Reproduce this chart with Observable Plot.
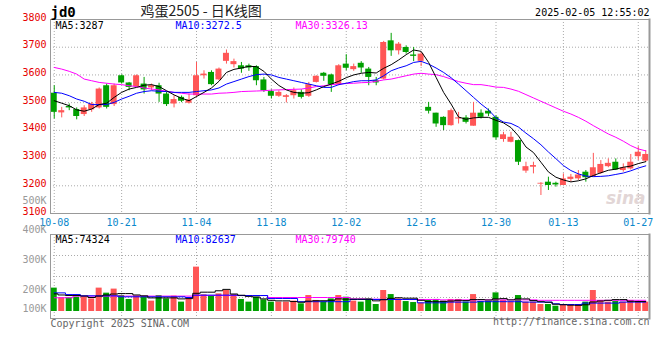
<!DOCTYPE html>
<html><head><meta charset="utf-8">
<script src="https://cdn.jsdelivr.net/npm/d3@7"></script>
<script src="https://cdn.jsdelivr.net/npm/@observablehq/plot@0.6"></script>
<style>
body{margin:0;background:#fff}
#wrap{position:relative;width:660px;height:360px;background:#fff;overflow:hidden}
#wrap svg{position:absolute;left:0;top:0;background:transparent}
</style></head><body><div id="wrap"></div>
<script>
const dates = ["10-08","10-09","10-10","10-11","10-14","10-15","10-16","10-17","10-18","10-21","10-22","10-23","10-24","10-25","10-28","10-29","10-30","10-31","11-01","11-04","11-05","11-06","11-07","11-08","11-11","11-12","11-13","11-14","11-15","11-18","11-19","11-20","11-21","11-22","11-25","11-26","11-27","11-28","11-29","12-02","12-03","12-04","12-05","12-06","12-09","12-10","12-11","12-12","12-13","12-16","12-17","12-18","12-19","12-20","12-23","12-24","12-25","12-26","12-27","12-30","12-31","01-02","01-03","01-06","01-07","01-08","01-09","01-10","01-13","01-14","01-15","01-16","01-17","01-20","01-21","01-22","01-23","01-24","01-27","02-05"];
const open = [3534,3463,3486,3475,3457,3474,3481,3561,3493,3597, 3571,3558,3567,3553,3561,3531,3495,3519,3498,3525, 3597,3609,3582,3649,3637,3633,3633,3630,3582,3540, 3523,3519,3525,3537,3523,3573,3606,3600,3565,3639, 3619,3642,3621,3579,3585,3723,3687,3699,3672,3649, 3483,3462,3447,3417,3441,3445,3415,3462,3469,3447, 3367,3357,3363,3253,3267,3206,3213,3209,3201,3223, 3225,3249,3231,3245,3269,3285,3255,3261,3305,3289];
const high = [3561,3483,3495,3481,3489,3501,3553,3567,3567,3600, 3573,3600,3591,3567,3570,3537,3525,3524,3531,3645, 3615,3615,3625,3690,3657,3645,3639,3633,3591,3546, 3543,3529,3553,3546,3573,3597,3609,3603,3637,3673, 3639,3648,3627,3591,3721,3750,3717,3705,3699,3681, 3501,3462,3449,3477,3465,3453,3501,3474,3477,3453, 3393,3393,3365,3285,3285,3211,3231,3213,3243,3241, 3255,3255,3317,3291,3297,3297,3279,3313,3341,3327];
const low = [3441,3445,3471,3438,3450,3465,3477,3477,3486,3567, 3543,3555,3531,3543,3501,3486,3481,3500,3495,3519, 3585,3561,3579,3639,3625,3606,3613,3561,3537,3513, 3519,3499,3513,3513,3519,3571,3577,3537,3561,3615, 3613,3606,3561,3561,3582,3667,3672,3675,3648,3630, 3459,3411,3399,3415,3423,3423,3415,3441,3450,3365, 3357,3355,3273,3245,3243,3165,3183,3195,3201,3213, 3219,3213,3231,3241,3265,3255,3249,3257,3291,3285];
const close = [3465,3471,3481,3450,3481,3495,3549,3483,3561,3571, 3555,3597,3546,3561,3531,3493,3511,3505,3510,3597, 3603,3565,3621,3678,3648,3621,3625,3579,3543,3523, 3537,3525,3543,3519,3565,3595,3595,3565,3633,3624, 3630,3625,3591,3571,3717,3687,3711,3681,3667,3675, 3469,3423,3417,3471,3445,3429,3462,3447,3459,3373, 3384,3375,3285,3269,3273,3209,3201,3203,3225,3231, 3239,3229,3265,3277,3281,3257,3265,3285,3321,3313];
const ma5 = [3507,3498,3489,3474,3469,3477,3493,3498,3519,3537, 3549,3555,3563,3565,3558,3543,3528,3516,3507,3522, 3537,3553,3577,3609,3620,3625,3631,3630,3613,3585, 3562,3546,3537,3534,3536,3546,3558,3567,3577,3590, 3600,3606,3609,3607,3624,3637,3654,3673,3690,3685, 3645,3591,3537,3495,3448,3440,3445,3447,3447,3436, 3427,3410,3380,3340,3320,3285,3250,3231,3221,3214, 3218,3225,3237,3247,3256,3260,3267,3271,3280,3287];
const ma10 = [3537,3534,3525,3513,3505,3493,3493,3493,3501,3513, 3523,3534,3540,3543,3541,3540,3537,3537,3537,3540, 3543,3546,3553,3567,3576,3585,3594,3601,3603,3600, 3591,3585,3579,3573,3567,3561,3555,3555,3565,3570, 3576,3579,3579,3582,3597,3615,3625,3633,3645,3649, 3639,3625,3609,3590,3567,3543,3519,3495,3474,3445, 3430,3425,3412,3390,3370,3348,3322,3298,3273,3255, 3243,3235,3233,3234,3236,3241,3246,3254,3264,3272];
const ma30 = [3627,3621,3613,3603,3585,3579,3573,3570,3567,3565, 3561,3558,3553,3549,3546,3541,3537,3534,3531,3531, 3531,3531,3534,3535,3537,3540,3541,3542,3543,3545, 3546,3547,3548,3549,3553,3558,3561,3565,3567,3569, 3570,3572,3573,3577,3582,3585,3591,3597,3603,3606, 3603,3601,3594,3585,3576,3570,3565,3565,3561,3556, 3555,3549,3541,3529,3517,3505,3493,3481,3469,3459, 3447,3433,3417,3402,3387,3375,3361,3345,3333,3326];
const volume = [167,98,98,102,102,90,167,131,160,114, 86,110,102,74,114,90,110,67,90,317, 119,110,126,150,119,86,67,102,83,67, 67,67,74,55,114,79,67,90,114,102, 74,67,90,50,150,121,90,71,64,60, 79,86,74,86,86,67,121,71,71,133, 79,67,114,67,67,50,50,38,50,43, 43,67,150,79,67,71,67,79,71,67];
const vma5 = [126,118,114,114,110,100,110,118,125,128, 128,118,112,97,97,97,97,90,92,130, 138,138,148,158,125,116,108,103,90,80, 76,76,71,66,74,77,77,80,90,88, 88,88,88,76,84,94,98,95,95,80, 72,70,72,75,80,78,85,85,82,90, 92,83,90,90,78,70,66,52,48,45, 44,48,68,75,80,85,85,73,71,71];
const vma10 = [133,133,121,121,112,112,112,112,112,105, 105,105,105,105,105,105,105,105,100,117, 117,117,117,117,117,114,114,114,114,93, 93,93,93,70,70,70,70,70,70,70, 86,86,86,86,86,86,86,86,86,62, 62,62,62,67,67,67,67,70,70,70, 70,70,70,67,67,67,67,55,50,50, 50,60,60,60,60,60,67,67,67,67];
const vma30 = [98,98,98,110,110,110,110,110,110,110, 110,110,110,110,110,110,110,110,110,114, 114,114,114,114,114,114,114,114,114,100, 100,100,100,100,100,100,100,100,100,100, 90,90,88,88,86,86,86,86,86,86, 86,86,83,83,83,83,83,83,83,83, 83,83,83,83,83,80,80,80,80,80, 80,80,80,80,80,80,80,80,80,80];
const priceTicks = [3100,3200,3300,3400,3500,3600,3700,3800];
const dateTicks = ["10-08","10-21","11-04","11-18","12-02","12-16","12-30","01-13","01-27"];
const volTickValues = [500000,400000,300000,200000,100000];
const priceMaLabels = ["MA5:3287","MA10:3272.5","MA30:3326.13"];
const volMaLabels = ["MA5:74324","MA10:82637","MA30:79740"];
const titleText = "鸡蛋2505 - 日K线图";
const codeText = "jd0";
const stampText = "2025-02-05 12:55:02";

const RED = "#ff5656", GREEN = "#00a000", GRID = "#aaa", BORDER = "#999";
const MA_COLORS = ["#000000", "#0000ff", "#ff00ff"];
const mono = "DejaVu Sans Mono";
const W = 660, H = 360;

const rows = dates.map((d, i) => ({
  date: d, open: open[i], high: high[i], low: low[i], close: close[i],
  vol: volume[i] * 1000, ma5: ma5[i], ma10: ma10[i], ma30: ma30[i],
  vma5: vma5[i] * 1000, vma10: vma10[i] * 1000, vma30: vma30[i] * 1000,
  col: close[i] >= open[i] ? RED : GREEN
}));

const xScale = {type: "band", domain: dates, padding: 0, axis: null};
const dotted = {stroke: GRID, strokeDasharray: "1,2"};
const baseStyle = {background: "transparent", fontFamily: mono, fontSize: "10px", overflow: "visible"};

const main = Plot.plot({
  width: W, height: H, marginLeft: 50, marginRight: 11, marginTop: 19, marginBottom: 147,
  style: baseStyle,
  x: xScale,
  y: {domain: [3100, 3800], axis: null},
  color: {type: "identity"},
  marks: [
    Plot.ruleY(priceTicks.slice(1, -1), dotted),
    Plot.ruleX(dateTicks, dotted),
    Plot.text(["sina"], {frameAnchor: "bottom-right", dx: -4, dy: -10, textAnchor: "end", fontFamily: "DejaVu Sans", fontStyle: "italic", fontWeight: "bold", fontSize: 17, fill: "#e2d6d6"}),
    Plot.ruleX(rows, {x: "date", y1: "low", y2: "high", stroke: "col", strokeWidth: 1}),
    Plot.barY(rows, {x: "date", y1: "open", y2: "close", fill: "col", insetLeft: 0.75, insetRight: 0.75}),
    Plot.line(rows, {x: "date", y: "ma30", stroke: MA_COLORS[2], strokeWidth: 1}),
    Plot.line(rows, {x: "date", y: "ma10", stroke: MA_COLORS[1], strokeWidth: 1}),
    Plot.line(rows, {x: "date", y: "ma5", stroke: MA_COLORS[0], strokeWidth: 1}),
    Plot.frame({stroke: BORDER}),
    Plot.frame({anchor: "right", stroke: BORDER, strokeWidth: 2}),
    Plot.text(priceTicks, {y: d => d, text: d => `${d}`, frameAnchor: "left", dx: -4, textAnchor: "end", lineAnchor: "bottom", dy: 1, fill: "#e60000"}),
    Plot.text(dateTicks, {x: d => d, frameAnchor: "bottom", dy: 5, lineAnchor: "top", fill: "#0a88cc"}),
    Plot.text([codeText], {frameAnchor: "top-left", dy: -7, lineAnchor: "middle", fontWeight: "bold", fontSize: 14, letterSpacing: "3px", fill: "#000"}),
    Plot.text([titleText], {frameAnchor: "top-left", dx: 90, dy: -8, lineAnchor: "middle", fontFamily: "Noto Sans CJK SC", fontSize: 14, fill: "#222"}),
    Plot.text([stampText], {frameAnchor: "top-right", dy: -7, lineAnchor: "middle", fill: "#000"}),
    ...priceMaLabels.map((t, k) => Plot.text([t], {frameAnchor: "top-left", dx: 5 + 120 * k, dy: 2, lineAnchor: "top", fill: MA_COLORS[k]}))
  ]
});

const vDomain = [-50000, 550000];
const vGrid = [1, 2, 3].map(k => vDomain[0] + (vDomain[1] - vDomain[0]) * k / 4);

const vol = Plot.plot({
  width: W, height: H, marginLeft: 50, marginRight: 11, marginTop: 234, marginBottom: 42,
  style: baseStyle,
  x: xScale,
  y: {domain: vDomain, axis: null},
  color: {type: "identity"},
  marks: [
    Plot.ruleY(vGrid, dotted),
    Plot.ruleX(dateTicks, dotted),
    Plot.barY(rows, {x: "date", y: "vol", fill: "col", insetLeft: 0.75, insetRight: 0.75}),
    Plot.line(rows, {x: "date", y: "vma30", stroke: MA_COLORS[2], strokeWidth: 1, curve: "step"}),
    Plot.line(rows, {x: "date", y: "vma10", stroke: MA_COLORS[1], strokeWidth: 1, curve: "step"}),
    Plot.line(rows, {x: "date", y: "vma5", stroke: MA_COLORS[0], strokeWidth: 1, curve: "step"}),
    Plot.frame({stroke: BORDER}),
    Plot.frame({anchor: "right", stroke: BORDER, strokeWidth: 2}),
    ...volMaLabels.map((t, k) => Plot.text([t], {frameAnchor: "top-left", dx: 5 + 120 * k, dy: 1, lineAnchor: "top", fill: MA_COLORS[k]})),
    Plot.text(["Copyright 2025 SINA.COM"], {frameAnchor: "bottom-left", dy: 1, lineAnchor: "top", fill: "#666"}),
    Plot.text(["http://finance.sina.com.cn"], {frameAnchor: "bottom-right", dy: -1, lineAnchor: "top", textAnchor: "end", fill: "#666"})
  ]
});

// volume axis labels (Sina draws them on their own scale, independent of the bars)
const volAxis = Plot.plot({
  width: W, height: H, marginLeft: 50, marginRight: 11, marginTop: 200, marginBottom: 41,
  style: baseStyle,
  y: {domain: [100000, 500000], axis: null},
  marks: [
    Plot.text(volTickValues, {y: d => Math.max(d, 135000), frameAnchor: "left", dx: -4, textAnchor: "end", text: d => d / 1000 + "K", fill: "#999"})
  ]
});

const wrap = document.getElementById("wrap");
wrap.append(main, vol, volAxis);
</script></body></html>
